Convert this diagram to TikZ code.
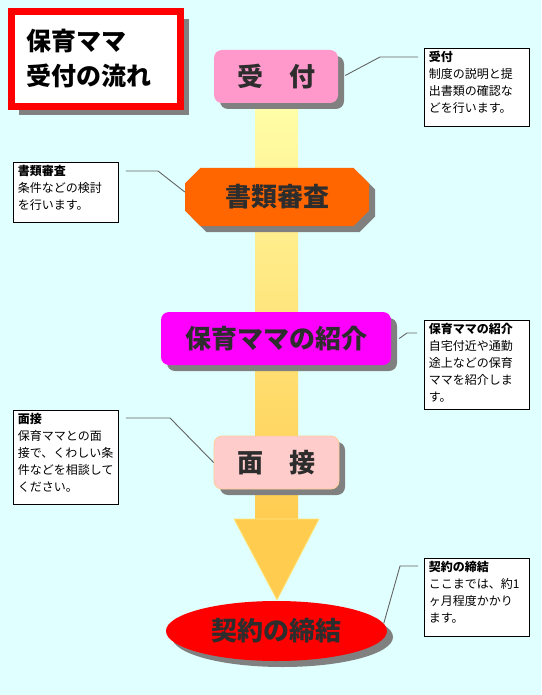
\documentclass[tikz,border=0pt]{standalone}
\usepackage{fontspec}
\usepackage{tikz}
\usetikzlibrary{shapes.geometric,shapes.misc,shadows}
\newfontfamily\jp{Noto Sans CJK JP}
\definecolor{bgcyan}{RGB}{224,255,255}
\definecolor{pinkbox}{RGB}{255,153,204}
\definecolor{orangebox}{RGB}{255,102,0}
\definecolor{magentabox}{RGB}{255,0,255}
\definecolor{palepink}{RGB}{255,204,204}
\definecolor{paleedge}{RGB}{255,204,153}
\definecolor{redbox}{RGB}{255,0,0}
\definecolor{shadowgray}{RGB}{128,128,128}
\definecolor{leadgray}{RGB}{100,100,100}
\definecolor{inkdark}{RGB}{45,45,45}
\definecolor{flowtop}{RGB}{255,255,170}
\definecolor{flowbot}{RGB}{255,204,80}
\newcommand{\infotext}[3]{\parbox[t][#1][t]{96pt}{\textbf{#2}\\#3}}

\begin{document}
\begin{tikzpicture}[x=1pt,y=-1pt,
  boxshadow/.style={drop shadow={shadow xshift=6pt,shadow yshift=-6pt,fill=shadowgray,opacity=1}},
  stage/.style={boxshadow,font=\jp\bfseries\fontsize{26}{30}\selectfont,text=inkdark,inner sep=0pt},
  info/.style={draw=black,line width=0.8pt,fill=white,anchor=north west,inner xsep=4.5pt,inner ysep=3pt,
    font=\jp\fontsize{12}{17}\selectfont},
  lead/.style={draw=leadgray,line width=0.9pt}]
  \fill[bgcyan] (0,0) rectangle (541,695);
  \useasboundingbox (0,0) rectangle (541,695);

  % flow arrow
  \shade[top color=flowtop,bottom color=flowbot] (255,95) rectangle (298,520);
  \fill[flowbot,draw=flowtop!50!flowbot,line width=0.8pt] (234,519) -- (319,519) -- (277,600) -- cycle;

  % title
  \node[drop shadow={shadow xshift=8pt,shadow yshift=-8pt,fill=shadowgray,opacity=1},
        fill=white,draw=redbox,line width=6pt,minimum width=170pt,minimum height=96pt,
        text width=140pt,align=left,font=\jp\bfseries\fontsize{25}{35}\selectfont] (title) at (96,59) {保育ママ\\受付の流れ};
  \draw[redbox,line width=1.2pt] ([xshift=6.5pt,yshift=-6.5pt]title.north west) rectangle ([xshift=-6.5pt,yshift=6.5pt]title.south east);

  % stages
  \node[stage,fill=pinkbox,rounded corners=8pt,minimum width=124pt,minimum height=53pt] (uketsuke) at (276,76.5) {受　付};
  \node[stage,chamfered rectangle,chamfered rectangle xsep=15pt,fill=orangebox,minimum width=184pt,minimum height=58pt] (shinsa) at (277,197) {書類審査};
  \node[stage,fill=magentabox,rounded corners=8pt,minimum width=230pt,minimum height=53pt] (shokai) at (276,338.5) {保育ママの紹介};
  \node[stage,fill=palepink,draw=paleedge,line width=0.8pt,rounded corners=8pt,minimum width=125pt,minimum height=53pt] (mensetsu) at (276.5,462.5) {面　接};
  \node[stage,ellipse,fill=redbox,minimum width=221pt,minimum height=60pt] (keiyaku) at (276.5,631) {契約の締結};

  % notes
  \node[info] (infoA) at (424,48) {\infotext{72pt}{受付}{制度の説明と提\\出書類の確認な\\どを行います。}};
  \node[info] (infoB) at (13,162) {\infotext{54pt}{書類審査}{条件などの検討\\を行います。}};
  \node[info] (infoC) at (424,320) {\infotext{83pt}{保育ママの紹介}{自宅付近や通勤\\途上などの保育\\ママを紹介しま\\す。}};
  \node[info] (infoD) at (13,410) {\infotext{88pt}{面接}{保育ママとの面\\接で、くわしい条\\件などを相談して\\ください。}};
  \node[info] (infoE) at (424,558) {\infotext{72pt}{契約の締結}{ここまでは、約1\\ヶ月程度かかり\\ます。}};

  % leaders
  \coordinate (bendA) at (380,57);
  \coordinate (bendB) at (158,171);
  \coordinate (bendC) at (407,333);
  \coordinate (bendD) at (170,418);
  \coordinate (bendE) at (400,566);
  \draw[lead,shorten >=6pt] ([xshift=7pt,yshift=1pt]uketsuke.east) -- (bendA) -- (bendA -| infoA.west);
  \draw[lead,shorten <=7pt] (bendB -| infoB.east) -- (bendB) -- ([yshift=5pt]shinsa.west);
  \draw[lead,shorten >=7pt] ([xshift=8pt]shokai.east) -- (bendC) -- (bendC -| infoC.west);
  \draw[lead,shorten <=7pt] (bendD -| infoD.east) -- (bendD) -- (mensetsu.west);
  \draw[lead,shorten >=6pt] (keiyaku.4) -- (bendE) -- (bendE -| infoE.west);
\end{tikzpicture}
\end{document}
